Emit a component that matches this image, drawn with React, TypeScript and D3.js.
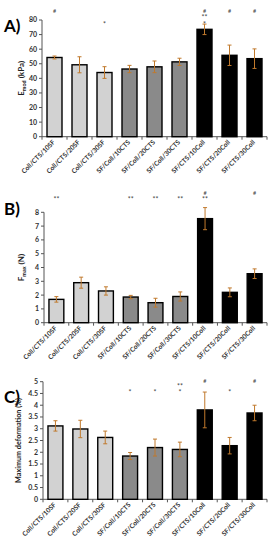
import React from 'react';
import * as d3 from 'd3';

const categories = ["Coll/CTS/10SF", "Coll/CTS/20SF", "Coll/CTS/30SF", "SF/Coll/10CTS", "SF/Coll/20CTS", "SF/Coll/30CTS", "SF/CTS/10Coll", "SF/CTS/20Coll", "SF/CTS/30Coll"];
const groupOf = [0, 0, 0, 1, 1, 1, 2, 2, 2];

const modulusMean = [54.3, 49.3, 44, 46.4, 47.9, 51.3, 73.6, 55.8, 53.5];
const modulusErr = [1, 5.5, 4, 2.5, 4, 2.5, 3.6, 7, 6.7];
const modulusTicks = [0, 10, 20, 30, 40, 50, 60, 70, 80];
const modulusMarks = [["#"], [], ["", "", "*"], [], [], [], ["#", "**", "*"], ["#"], ["#"]];

const forceMean = [1.69, 2.9, 2.3, 1.86, 1.45, 1.9, 7.54, 2.2, 3.55];
const forceErr = [0.2, 0.4, 0.3, 0.12, 0.32, 0.33, 0.8, 0.32, 0.35];
const forceTicks = [0, 1, 2, 3, 4, 5, 6, 7, 8];
const forceMarks = [["", "**"], [], [], ["", "**"], ["", "**"], ["", "**"], ["#", "**"], [], ["#"]];

const deformMean = [3.12, 2.99, 2.63, 1.84, 2.2, 2.12, 3.8, 2.28, 3.67];
const deformErr = [0.22, 0.37, 0.27, 0.15, 0.36, 0.31, 0.76, 0.35, 0.33];
const deformTicks = [0, 0.5, 1, 1.5, 2, 2.5, 3, 3.5, 4, 4.5, 5];
const deformMarks = [[], [], [], ["", "", "*"], ["", "", "*"], ["", "**", "*"], ["#"], ["", "", "*"], ["#"]];

const FILLS = ["#d2d2d2", "#8a8a8a", "#000000"];
const ERR = "#c0792c";
const FONT = "Lato, 'Open Sans', sans-serif";

interface PanelProps {
  tag: string;
  ylabel: React.ReactNode;
  ylabelSize: number;
  means: number[];
  errs: number[];
  ticks: number[];
  marks: string[][];
  top: number;
  bottom: number;
  left: number;
  markRows: number[];
  labelX: number;
  tagY: number;
}

const Panel: React.FC<PanelProps> = ({ tag, ylabel, ylabelSize, means, errs, ticks, marks, top, bottom, left, markRows, labelX, tagY }) => {
  const right = 267;
  const x = d3.scaleBand<string>().domain(categories).range([left, right]).paddingInner(0.4).paddingOuter(0.2);
  const y = d3.scaleLinear().domain([0, ticks[ticks.length - 1]]).range([bottom, top]);
  const bw = x.bandwidth();
  const step = x.step();

  return (
    <g fontFamily={FONT}>
      <text x={4} y={tagY} fontSize={17} fontWeight="bold" fill="#000">{tag}</text>
      {/* y axis */}
      <line x1={left} x2={left} y1={top} y2={bottom} stroke="#555" strokeWidth={1} />
      {ticks.map(t => (
        <g key={t}>
          <line x1={left - 3} x2={left} y1={y(t)} y2={y(t)} stroke="#555" />
          <text x={left - 5} y={y(t)} dy="0.35em" textAnchor="end" fontSize={7} fontWeight="bold" fill="#333">{String(t)}</text>
        </g>
      ))}
      <text transform={`translate(${labelX},${(top + bottom) / 2}) rotate(-90)`} textAnchor="middle" fontSize={ylabelSize} fontWeight="bold" fill="#222">{ylabel}</text>
      {/* x axis */}
      <line x1={left} x2={right} y1={bottom} y2={bottom} stroke="#555" />
      {d3.range(categories.length + 1).map(i => {
        const tx = left + i * step;
        return <line key={i} x1={tx} x2={tx} y1={bottom} y2={bottom + 3} stroke="#555" />;
      })}
      {categories.map((c, i) => {
        const x0 = x(c)!;
        const cx = x0 + bw / 2;
        const v = means[i];
        const e = errs[i];
        const rows = marks[i];
        return (
          <g key={c}>
            <rect x={x0} y={y(v)} width={bw} height={bottom - y(v)} fill={FILLS[groupOf[i]]} stroke="#000" strokeWidth={1.4} />
            <line x1={cx} x2={cx} y1={y(v + e)} y2={y(v - e)} stroke={ERR} strokeWidth={1} />
            <line x1={cx - 2} x2={cx + 2} y1={y(v + e)} y2={y(v + e)} stroke={ERR} strokeWidth={1} />
            <line x1={cx - 2} x2={cx + 2} y1={y(v - e)} y2={y(v - e)} stroke={ERR} strokeWidth={1} />
            {rows.map((m, k) => m ? (
              <text key={k} x={cx} y={markRows[k]} textAnchor="middle" fill="#444" fontSize={m === "#" ? 5.5 : 7}>{m}</text>
            ) : null)}
            <text transform={`translate(${cx + 1},${bottom + 6}) rotate(-45)`} textAnchor="end" fontSize={6.6} fontWeight="bold" fill="#333">{c}</text>
          </g>
        );
      })}
    </g>
  );
};

export default function App() {
  return (
    <svg width={278} height={550} style={{ position: 'absolute', left: 0, top: 0, background: '#fff' }}>
      <Panel tag="A)" ylabel={<>E<tspan fontSize={5.5} dy={2}>mod</tspan><tspan dy={-2}> (kPa)</tspan></>} ylabelSize={8}
        means={modulusMean} errs={modulusErr} ticks={modulusTicks} marks={modulusMarks}
        top={20} bottom={136.7} left={42} markRows={[12.5, 19.5, 26.5]} labelX={24} tagY={32} />
      <Panel tag="B)" ylabel={<>F<tspan fontSize={5.5} dy={2}>max</tspan><tspan dy={-2}> (N)</tspan></>} ylabelSize={8}
        means={forceMean} errs={forceErr} ticks={forceTicks} marks={forceMarks}
        top={212.3} bottom={322.7} left={44} markRows={[194.5, 202]} labelX={24} tagY={215} />
      <Panel tag="C)" ylabel="Maximum deformation (%)" ylabelSize={7.2}
        means={deformMean} errs={deformErr} ticks={deformTicks} marks={deformMarks}
        top={381.7} bottom={499.3} left={43} markRows={[383, 388.5, 395]} labelX={21} tagY={403} />
    </svg>
  );
}
